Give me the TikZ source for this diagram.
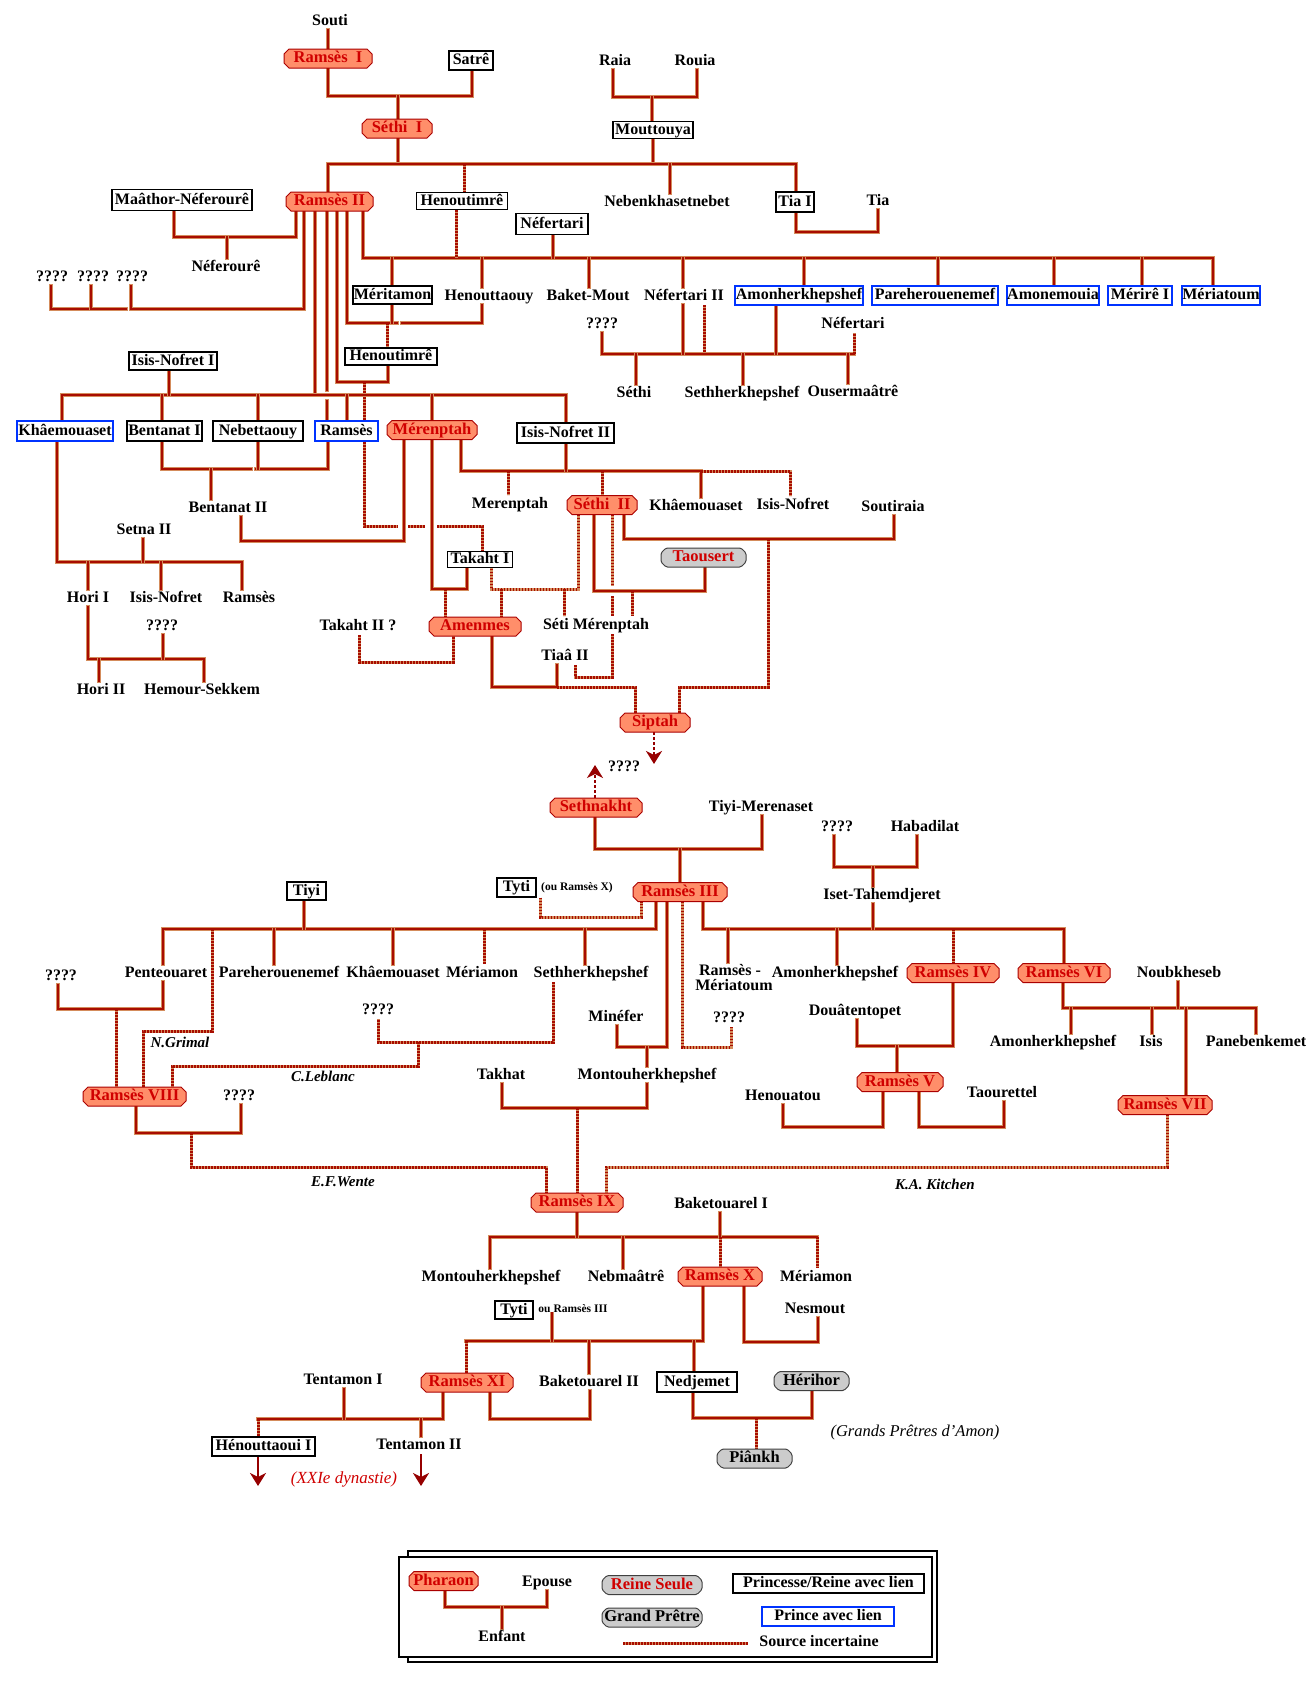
\documentclass[tikz,border=0pt]{standalone}
\usepackage{fontspec}
\setmainfont{Liberation Serif}
\usetikzlibrary{arrows.meta}
\definecolor{lnout}{RGB}{212,140,92}
\definecolor{lnin}{RGB}{168,12,0}
\definecolor{phfill}{RGB}{255,142,106}
\definecolor{phdraw}{RGB}{170,0,0}
\definecolor{phtxt}{RGB}{208,0,0}
\definecolor{grfill}{RGB}{204,204,204}
\definecolor{blu}{RGB}{0,51,255}
\definecolor{arrc}{RGB}{150,0,0}
\pgfdeclarelayer{bg}
\pgfsetlayers{bg,main}
\newcommand\fnt{\fontsize{16}{18}\selectfont\bfseries}
\newcommand\phfnt{\fontsize{16.5}{18}\selectfont\bfseries}
\newcommand\smfnt{\fontsize{11.5}{13}\selectfont\bfseries}
\newcommand\itfnt{\fontsize{15}{18}\selectfont\bfseries\itshape}
\newcommand\chamf[5]{% style, x, y, w, h
  \path[#1] ({#2-#4/2+5},{#3-#5/2}) -- ({#2+#4/2-5},{#3-#5/2}) -- ({#2+#4/2},{#3-#5/2+5}) -- ({#2+#4/2},{#3+#5/2-5}) -- ({#2+#4/2-5},{#3+#5/2}) -- ({#2-#4/2+5},{#3+#5/2}) -- ({#2-#4/2},{#3+#5/2-5}) -- ({#2-#4/2},{#3-#5/2+5}) -- cycle;}
\newcommand\phnode[5]{% name, x, y, w, label
  \chamf{phshape}{#2}{#3}{#4}{19}
  \node[phtext, minimum width=#4, minimum height=19] (#1) at (#2,#3) {#5};}
\newcommand\grnode[6]{% name, x, y, w, textcolor, label
  \chamf{grshape}{#2}{#3}{#4}{19}
  \node[phtext, text=#5, minimum width=#4, minimum height=19] (#1) at (#2,#3) {#6};}
\begin{document}
\begin{tikzpicture}[x=1pt,y=-1pt,
  txt/.style={inner sep=0pt, outer sep=2pt, text height=11pt, text depth=3pt, font=\fnt},
  itx/.style={txt, font=\itfnt},
  sm/.style={inner sep=0pt, font=\smfnt},
  pb/.style={draw=black, fill=white, line width=1.3pt, inner sep=0pt, text height=11pt, text depth=3pt, font=\fnt},
  bb/.style={pb, draw=blu},
  phtext/.style={inner sep=0pt, text height=11pt, text depth=3pt, font=\phfnt, text=phtxt},
  phshape/.style={fill=phfill, draw=phdraw, line width=1pt},
  grshape/.style={fill=grfill, draw=black!75, line width=1pt, rounded corners=1.5pt},
  ln/.style={draw=lnout, line width=3.4pt, line cap=rect, line join=miter, postaction={draw=lnin, line width=1.7pt}},
  dl/.style={draw=lnout, line width=3pt, postaction={draw=lnin, line width=3pt, dash pattern=on 1.6pt off 1.4pt}},
  arr/.style={draw=arrc, line width=2.8pt, -{Stealth[length=13pt,width=16pt,inset=4pt]}}
]
\useasboundingbox (0,0) rectangle (1313,1687);
% ================= NODES =================
\node[txt] (souti) at (330,21) {Souti};
\phnode{r1}{328}{58.5}{88}{Ramsès\hspace{0.5em}I}
\node[pb,minimum width=44,minimum height=19] (satre) at (471,60.5) {Satrê};
\phnode{s1}{397}{128.5}{70}{Séthi\hspace{0.5em}I}
\node[txt] (raia) at (615,61) {Raia};
\node[txt] (rouia) at (695,61) {Rouia};
\node[pb,minimum width=80,minimum height=17] (mout) at (653,130) {Mouttouya};
\phnode{r2}{329.5}{201.5}{87}{Ramsès II}
\node[pb,minimum width=91,minimum height=17] (henA) at (462,201) {Henoutimrê};
\node[txt] (nebenk) at (667,202) {Nebenkhasetnebet};
\node[pb,minimum width=38,minimum height=20] (tia1) at (795,202) {Tia I};
\node[txt] (tia) at (878,201) {Tia};
\node[pb,minimum width=140,minimum height=21] (maathor) at (182,200) {Maâthor-Néferourê};
\node[txt] (neferoure) at (226,267) {Néferourê};
\node[txt] (q1) at (52,277) {????};
\node[txt] (q2) at (93,277) {????};
\node[txt] (q3) at (132,277) {????};
\node[pb,minimum width=72,minimum height=21] (nefertari) at (552,224) {Néfertari};
\node[pb,minimum width=79,minimum height=18] (meritamon) at (392.5,295) {Méritamon};
\node[txt] (henouttaouy) at (489,296) {Henouttaouy};
\node[txt] (baketmout) at (588,296) {Baket-Mout};
\node[txt] (nef2) at (684,296) {Néfertari II};
\node[bb,minimum width=128,minimum height=19] (amonh) at (799,295.5) {Amonherkhepshef};
\node[bb,minimum width=126,minimum height=19] (pareh) at (935,295.5) {Pareherouenemef};
\node[bb,minimum width=92,minimum height=19] (amonem) at (1053,295.5) {Amonemouia};
\node[bb,minimum width=64,minimum height=19] (merire) at (1140,295.5) {Mérirê I};
\node[bb,minimum width=78,minimum height=19] (meriat) at (1221,295.5) {Mériatoum};
\node[txt] (q4) at (602,324) {????};
\node[txt] (nefertariB) at (853,324) {Néfertari};
\node[txt] (sethi) at (634,393) {Séthi};
\node[txt] (sethherk) at (742,393) {Sethherkhepshef};
\node[txt] (ouser) at (853,392) {Ousermaâtrê};
\node[pb,minimum width=92,minimum height=17] (henB) at (391,356.5) {Henoutimrê};
\node[pb,minimum width=88,minimum height=18] (isis1) at (173,361) {Isis-Nofret I};
% row of Ramses II children
\node[bb,minimum width=96,minimum height=20] (khaem) at (65,431) {Khâemouaset};
\node[pb,minimum width=75,minimum height=20] (bentanat1) at (164.5,431) {Bentanat I};
\node[pb,minimum width=90,minimum height=20] (nebett) at (258,431) {Nebettaouy};
\node[bb,minimum width=63,minimum height=20] (ramses) at (346.5,431) {Ramsès};
\phnode{merenptah}{432}{430}{90}{Mérenptah}
\node[pb,minimum width=97,minimum height=20] (isis2) at (565.5,433) {Isis-Nofret II};
\node[txt] (bentanat2) at (228,508) {Bentanat II};
\node[txt] (setna) at (144,530) {Setna II};
\node[txt] (hori1) at (88,598) {Hori I};
\node[txt] (isisnof) at (166,598) {Isis-Nofret};
\node[txt] (ramses2) at (249,598) {Ramsès};
\node[txt] (q5) at (162,626) {????};
\node[txt] (hori2) at (101,690) {Hori II};
\node[txt] (hemour) at (202,690) {Hemour-Sekkem};
\node[txt] (takaht2) at (358,626) {Takaht II ?};
\node[txt] (merenptah2) at (510,504) {Merenptah};
\phnode{s2}{602}{505}{70}{Séthi\hspace{0.5em}II}
\node[txt] (khaem2) at (696,506) {Khâemouaset};
\node[txt] (isisnof2) at (793,505) {Isis-Nofret};
\node[txt] (soutiraia) at (893,507) {Soutiraia};
\grnode{taousert}{703.5}{557.5}{85}{phtxt}{Taousert}
\node[pb,minimum width=65,minimum height=16] (takaht1) at (480,559.5) {Takaht I};
\phnode{amenmes}{475}{626.5}{92}{Amenmes}
\node[txt] (setimer) at (596,625) {Séti Mérenptah};
\node[txt] (tiaa) at (565,656) {Tiaâ II};
\phnode{siptah}{655}{722.5}{70}{Siptah}
\node[txt] (q6) at (624,767) {????};
\phnode{sethnakht}{596}{807.5}{92}{Sethnakht}
\node[txt] (tiyimer) at (761,807) {Tiyi-Merenaset};
\node[txt] (q7) at (837,827) {????};
\node[txt] (habadilat) at (925,827) {Habadilat};
\node[txt] (iset) at (882,895) {Iset-Tahemdjeret};
\phnode{r3}{680}{892}{94}{Ramsès III}
\node[pb,minimum width=39,minimum height=19] (tyti) at (516.5,887.5) {Tyti};
\node[sm] (ouR10) at (577,888) {(ou Ramsès X)};
\node[pb,minimum width=39,minimum height=18] (tiyi) at (306.5,891) {Tiyi};
\node[txt] (q8) at (61,976) {????};
\node[txt] (pente) at (166,973) {Penteouaret};
\node[txt] (pareh2) at (279,973) {Pareherouenemef};
\node[txt] (khaem3) at (393,973) {Khâemouaset};
\node[txt] (meriamon) at (482,973) {Mériamon};
\node[txt] (sethherk2) at (591,973) {Sethherkhepshef};
\node[txt] (rm1) at (730,971) {Ramsès -};
\node[txt] (rm2) at (734,986) {Mériatoum};
\node[txt] (amonh2) at (835,973) {Amonherkhepshef};
\phnode{r4}{953}{973}{92}{Ramsès IV}
\phnode{r6}{1064}{973}{92}{Ramsès VI}
\node[txt] (noub) at (1179,973) {Noubkheseb};
\node[txt] (q9) at (378,1010) {????};
\node[txt] (minefer) at (616,1017) {Minéfer};
\node[txt] (q10) at (729,1018) {????};
\node[txt] (douat) at (855,1011) {Douâtentopet};
\node[txt] (amonh3) at (1053,1042) {Amonherkhepshef};
\node[txt] (isis) at (1151,1042) {Isis};
\node[txt] (paneb) at (1256,1042) {Panebenkemet};
\node[itx] (ngrimal) at (180,1043) {N.Grimal};
\node[itx] (cleblanc) at (323,1077) {C.Leblanc};
\node[txt] (takhat) at (501,1075) {Takhat};
\node[txt] (montou) at (647,1075) {Montouherkhepshef};
\phnode{r8}{134.5}{1096.5}{103}{Ramsès VIII}
\node[txt] (q11) at (239,1096) {????};
\node[txt] (henouatou) at (783,1096) {Henouatou};
\phnode{r5}{900}{1082}{86}{Ramsès V}
\node[txt] (taour) at (1002,1093) {Taourettel};
\phnode{r7}{1165}{1105}{94}{Ramsès VII}
\node[itx] (efwente) at (343,1182) {E.F.Wente};
\node[itx] (kakitchen) at (935,1185) {K.A. Kitchen};
\phnode{r9}{577}{1202.5}{92}{Ramsès IX}
\node[txt] (baket1) at (721,1204) {Baketouarel I};
\node[txt] (montou2) at (491,1277) {Montouherkhepshef};
\node[txt] (nebma) at (626,1277) {Nebmaâtrê};
\phnode{r10}{720}{1276.5}{84}{Ramsès X}
\node[txt] (meriamon2) at (816,1277) {Mériamon};
\node[txt] (nesmout) at (815,1309) {Nesmout};
\node[pb,minimum width=38,minimum height=18] (tyti2) at (514,1310) {Tyti};
\node[sm] (ouR3) at (573,1309) {ou Ramsès III};
\node[txt] (tentamon1) at (343,1380) {Tentamon I};
\phnode{r11}{467}{1382.5}{92}{Ramsès XI}
\node[txt] (baket2) at (589,1382) {Baketouarel II};
\node[pb,minimum width=80,minimum height=20] (nedjemet) at (697,1382) {Nedjemet};
\grnode{herihor}{811.5}{1381}{75}{black}{Hérihor}
\node[txt, font=\fontsize{16.5}{18}\selectfont\itshape] (grands) at (915,1432) {(Grands Prêtres d'Amon)};
\grnode{piankh}{754.5}{1458.5}{75}{black}{Piânkh}
\node[pb,minimum width=103,minimum height=19] (henoutt1) at (263.5,1446.5) {Hénouttaoui I};
\node[txt] (tentamon2) at (419,1445) {Tentamon II};
\node[txt, font=\fontsize{17}{18}\selectfont\itshape, text=phtxt] (xxie) at (344,1479) {(XXIe dynastie)};
% legend
\phnode{lphar}{443.5}{1581}{69}{Pharaon}
\node[txt] (lepouse) at (547,1582) {Epouse};
\node[txt] (lenfant) at (502,1637) {Enfant};
\grnode{lreine}{652}{1585}{100}{phtxt}{Reine Seule}
\grnode{lgrand}{652}{1617.5}{100}{black}{Grand Prêtre}
\node[pb,minimum width=191,minimum height=19] (lprinc) at (828.5,1583.5) {Princesse/Reine avec lien};
\node[bb,minimum width=132,minimum height=19] (lprince) at (828,1616.5) {Prince avec lien};
\node[txt] (lsrc) at (819,1642) {Source incertaine};
\coordinate (lsrcA) at (623,1643);
\coordinate (lsrcB) at (748,1643);
% ================= CONNECTORS =================
\begin{pgfonlayer}{bg}
\fill[white] (0,0) rectangle (1313,1687);
% legend frame
\draw[line width=1.3pt] (408,1551) rectangle (937,1662);
\draw[line width=1.3pt, fill=white] (399,1557) rectangle (932,1657);
% top
\draw[ln] (328,0 |- souti.south) -- (328,0 |- r1.north);
\draw[ln] (328,0 |- r1.south) -- (328,96) -- (472,96) -- (472,0 |- satre.south);
\draw[ln] (398,96) -- (398,0 |- s1.north);
\draw[ln] (613,0 |- raia.south) -- (613,97) -- (697,97) -- (697,0 |- rouia.south);
\draw[ln] (652,97) -- (652,0 |- mout.north);
\draw[ln] (398,0 |- s1.south) -- (398,164);
\draw[ln] (653,0 |- mout.south) -- (653,164);
\draw[ln] (328,0 |- r2.north) -- (328,164) -- (796,164) -- (796,0 |- tia1.north);
\draw[ln] (670,164) -- (670,0 |- nebenk.north);
\draw[dl] (464,164) -- (464,0 |- henA.north);
\draw[ln] (796,0 |- tia1.south) -- (796,232) -- (878,232) -- (878,0 |- tia.south);
\draw[ln] (174,0 |- maathor.south) -- (174,237) -- (296,237) -- (296,0 |- r2.south);
\draw[ln] (227,237) -- (227,0 |- neferoure.north);
\draw[ln] (51,0 |- q1.south) -- (51,309) -- (88,309);
\draw[ln] (91,0 |- q2.south) -- (91,309) -- (126,309);
\draw[ln] (131,0 |- q3.south) -- (131,309) -- (304,309) -- (304,0 |- r2.south);
% Ramses II + Isis-Nofret I
\draw[ln] (315,0 |- r2.south) -- (315,395);
\draw[ln] (62,0 |- khaem.north) -- (62,395) -- (566,395) -- (566,0 |- isis2.north);
\draw[ln] (169,0 |- isis1.south) -- (169,395);
\draw[ln] (162,395) -- (162,0 |- bentanat1.north);
\draw[ln] (258,395) -- (258,0 |- nebett.north);
\draw[ln] (347,395) -- (347,0 |- ramses.north);
\draw[ln] (432,395) -- (432,0 |- merenptah.north);
\draw[ln] (327,0 |- r2.south) -- (327,390);
\draw[ln] (327,401) -- (327,0 |- ramses.north);
\draw[ln] (337,0 |- r2.south) -- (337,382) -- (388,382) -- (388,0 |- henB.south);
\draw[dl] (364,382) -- (364,526) -- (398,526);
\draw[dl] (408,526) -- (425,526);
\draw[dl] (437,526) -- (482,526) -- (482,0 |- takaht1.north);
\draw[ln] (347,0 |- r2.south) -- (347,323) -- (397,323);
\draw[ln] (402,323) -- (482,323) -- (482,0 |- henouttaouy.south);
\draw[ln] (392,0 |- meritamon.south) -- (392,323);
\draw[dl] (387,323) -- (387,0 |- henB.north);
% Ramses II + Nefertari
\draw[ln] (363,0 |- r2.south) -- (363,258) -- (1213,258) -- (1213,0 |- meriat.north);
\draw[ln] (553,0 |- nefertari.south) -- (553,258);
\draw[dl] (456,0 |- henA.south) -- (456,258);
\draw[ln] (392,258) -- (392,0 |- meritamon.north);
\draw[ln] (482,258) -- (482,0 |- henouttaouy.north);
\draw[ln] (589,258) -- (589,0 |- baketmout.north);
\draw[ln] (683,258) -- (683,0 |- nef2.north);
\draw[ln] (804,258) -- (804,0 |- amonh.north);
\draw[ln] (938,258) -- (938,0 |- pareh.north);
\draw[ln] (1054,258) -- (1054,0 |- amonem.north);
\draw[ln] (1142,258) -- (1142,0 |- merire.north);
% Nefertari II / Amonherkhepshef
\draw[ln] (602,0 |- q4.south) -- (602,354) -- (854,354);
\draw[dl] (854,354) -- (854,0 |- nefertariB.south);
\draw[ln] (683,0 |- nef2.south) -- (683,354);
\draw[dl] (704,0 |- nef2.south) -- (704,354);
\draw[ln] (776,0 |- amonh.south) -- (776,354);
\draw[ln] (636,354) -- (636,0 |- sethi.north);
\draw[ln] (743,354) -- (743,0 |- sethherk.north);
\draw[ln] (848,354) -- (848,0 |- ouser.north);
% Bentanat
\draw[ln] (162,0 |- bentanat1.south) -- (162,469) -- (251,469);
\draw[ln] (256,469) -- (328,469) -- (328,0 |- ramses.south);
\draw[ln] (258,0 |- nebett.south) -- (258,469);
\draw[ln] (211,469) -- (211,0 |- bentanat2.north);
\draw[ln] (241,0 |- bentanat2.south) -- (241,541) -- (404,541) -- (404,0 |- merenptah.south);
% Khaemouaset family
\draw[ln] (57,0 |- khaem.south) -- (57,562) -- (242,562) -- (242,0 |- ramses2.north);
\draw[ln] (143,0 |- setna.south) -- (143,562);
\draw[ln] (88,562) -- (88,0 |- hori1.north);
\draw[ln] (161,562) -- (161,0 |- isisnof.north);
\draw[ln] (88,0 |- hori1.south) -- (88,659) -- (204,659) -- (204,0 |- hemour.north);
\draw[ln] (163,0 |- q5.south) -- (163,659);
\draw[ln] (99,659) -- (99,0 |- hori2.north);
\draw[dl] (359,0 |- takaht2.south) -- (359,662) -- (453,662) -- (453,0 |- amenmes.south);
% Merenptah + Isis-Nofret II
\draw[ln] (461,0 |- merenptah.south) -- (461,471) -- (701,471) -- (701,0 |- khaem2.north);
\draw[ln] (566,0 |- isis2.south) -- (566,471);
\draw[dl] (508,471) -- (508,0 |- merenptah2.north);
\draw[dl] (602,471) -- (602,0 |- s2.north);
\draw[dl] (701,471) -- (790,471) -- (790,0 |- isisnof2.north);
% Merenptah + Takaht I
\draw[ln] (432,0 |- merenptah.south) -- (432,589) -- (467,589) -- (467,0 |- takaht1.south);
\draw[dl] (445,589) -- (445,0 |- amenmes.north);
% Sethi II
\draw[dl] (578,0 |- s2.south) -- (578,589) -- (491,589) -- (491,0 |- takaht1.south);
\draw[dl] (501,589) -- (501,0 |- amenmes.north);
\draw[dl] (564,589) -- (564,0 |- setimer.north);
\draw[ln] (594,0 |- s2.south) -- (594,591) -- (705,591) -- (705,0 |- taousert.south);
\draw[dl] (632,591) -- (632,0 |- setimer.north);
\draw[ln] (624,0 |- s2.south) -- (624,539) -- (894,539) -- (894,0 |- soutiraia.south);
\draw[dl] (768,539) -- (768,687) -- (679,687) -- (679,0 |- siptah.north);
\draw[dl] (612,0 |- s2.south) -- (612,586);
\draw[dl] (612,596) -- (612,0 |- setimer.north);
\draw[dl] (612,0 |- setimer.south) -- (612,677) -- (575,677) -- (575,0 |- tiaa.south);
% Amenmes + Tiaa II
\draw[ln] (492,0 |- amenmes.south) -- (492,687) -- (557,687) -- (557,0 |- tiaa.south);
\draw[dl] (557,687) -- (635,687) -- (635,0 |- siptah.north);
% arrows
\draw[arr, dash pattern=on 3pt off 2pt] (654,0 |- siptah.south) -- (654,764);
\draw[arr, dash pattern=on 3pt off 2pt] (595,0 |- sethnakht.north) -- (595,765);
% Sethnakht
\draw[ln] (595,0 |- sethnakht.south) -- (595,849) -- (762,849) -- (762,0 |- tiyimer.south);
\draw[ln] (680,849) -- (680,0 |- r3.north);
\draw[ln] (834,0 |- q7.south) -- (834,867) -- (917,867) -- (917,0 |- habadilat.south);
\draw[ln] (873,867) -- (873,0 |- iset.north);
% Ramses III + Iset
\draw[ln] (703,0 |- r3.south) -- (703,929) -- (1064,929) -- (1064,0 |- r6.north);
\draw[ln] (873,0 |- iset.south) -- (873,929);
\draw[ln] (728,929) -- (728,0 |- rm1.north);
\draw[ln] (837,929) -- (837,0 |- amonh2.north);
\draw[dl] (953,929) -- (953,0 |- r4.north);
\draw[dl] (540,0 |- tyti.south) -- (540,917) -- (641,917) -- (641,0 |- r3.south);
% Ramses III + Tiyi
\draw[ln] (656,0 |- r3.south) -- (656,929) -- (163,929) -- (163,0 |- pente.north);
\draw[ln] (304,0 |- tiyi.south) -- (304,929);
\draw[ln] (274,929) -- (274,0 |- pareh2.north);
\draw[ln] (393,929) -- (393,0 |- khaem3.north);
\draw[dl] (484,929) -- (484,0 |- meriamon.north);
\draw[ln] (585,929) -- (585,0 |- sethherk2.north);
\draw[dl] (212,929) -- (212,1031) -- (143,1031) -- (143,0 |- r8.north);
\draw[ln] (58,0 |- q8.south) -- (58,1009) -- (163,1009) -- (163,0 |- pente.south);
\draw[dl] (116,1009) -- (116,0 |- r8.north);
\draw[dl] (553,0 |- sethherk2.south) -- (553,1042) -- (378,1042) -- (378,0 |- q9.south);
\draw[dl] (418,1042) -- (418,1066) -- (172,1066) -- (172,0 |- r8.north);
\draw[ln] (136,0 |- r8.south) -- (136,1133) -- (241,1133) -- (241,0 |- q11.south);
\draw[dl] (191,1133) -- (191,1167) -- (546,1167) -- (546,0 |- r9.north);
% Ramses III + Minefer
\draw[ln] (667,0 |- r3.south) -- (667,1047) -- (617,1047) -- (617,0 |- minefer.south);
\draw[ln] (647,1047) -- (647,0 |- montou.north);
\draw[dl] (682,0 |- r3.south) -- (682,1047) -- (731,1047) -- (731,0 |- q10.south);
\draw[ln] (502,0 |- takhat.south) -- (502,1108) -- (647,1108) -- (647,0 |- montou.south);
\draw[dl] (577,1108) -- (577,0 |- r9.north);
\draw[dl] (1167,0 |- r7.south) -- (1167,1167) -- (606,1167) -- (606,0 |- r9.north);
% Ramses IV / V / VI
\draw[ln] (857,0 |- douat.south) -- (857,1046) -- (953,1046) -- (953,0 |- r4.south);
\draw[ln] (897,1046) -- (897,0 |- r5.north);
\draw[ln] (783,0 |- henouatou.south) -- (783,1127) -- (883,1127) -- (883,0 |- r5.south);
\draw[ln] (919,0 |- r5.south) -- (919,1127) -- (1004,1127) -- (1004,0 |- taour.south);
\draw[ln] (1063,0 |- r6.south) -- (1063,1008) -- (1256,1008) -- (1256,0 |- paneb.north);
\draw[ln] (1178,0 |- noub.south) -- (1178,1008);
\draw[ln] (1071,1008) -- (1071,0 |- amonh3.north);
\draw[ln] (1152,1008) -- (1152,0 |- isis.north);
\draw[ln] (1186,1008) -- (1186,0 |- r7.north);
% Ramses IX + Baketouarel I
\draw[ln] (490,0 |- montou2.north) -- (490,1237) -- (817,1237);
\draw[dl] (817,1237) -- (817,0 |- meriamon2.north);
\draw[ln] (577,0 |- r9.south) -- (577,1237);
\draw[ln] (720,0 |- baket1.south) -- (720,1237);
\draw[ln] (623,1237) -- (623,0 |- nebma.north);
\draw[dl] (720,1237) -- (720,0 |- r10.north);
% Ramses X
\draw[ln] (744,0 |- r10.south) -- (744,1342) -- (818,1342) -- (818,0 |- nesmout.south);
\draw[ln] (703,0 |- r10.south) -- (703,1341) -- (466,1341);
\draw[dl] (466,1341) -- (466,0 |- r11.north);
\draw[ln] (552,0 |- ouR3.south) -- (552,1341);
\draw[ln] (589,1341) -- (589,0 |- baket2.north);
\draw[ln] (694,1341) -- (694,0 |- nedjemet.north);
\draw[ln] (693,0 |- nedjemet.south) -- (693,1418) -- (812,1418) -- (812,0 |- herihor.south);
\draw[dl] (756,1418) -- (756,0 |- piankh.north);
\draw[ln] (490,0 |- r11.south) -- (490,1419) -- (590,1419) -- (590,0 |- baket2.south);
\draw[ln] (443,0 |- r11.south) -- (443,1419) -- (258,1419);
\draw[dl] (258,1419) -- (258,0 |- henoutt1.north);
\draw[ln] (344,0 |- tentamon1.south) -- (344,1419);
\draw[ln] (421,1419) -- (421,0 |- tentamon2.north);
\draw[arr] (258,0 |- henoutt1.south) -- (258,1486);
\draw[arr] (421,0 |- tentamon2.south) -- (421,1486);
% legend connectors
\draw[ln] (445,0 |- lphar.south) -- (445,1607) -- (547,1607) -- (547,0 |- lepouse.south);
\draw[ln] (502,1607) -- (502,0 |- lenfant.north);
\draw[dl] (lsrcA) -- (lsrcB);
\end{pgfonlayer}
\end{tikzpicture}
\end{document}
